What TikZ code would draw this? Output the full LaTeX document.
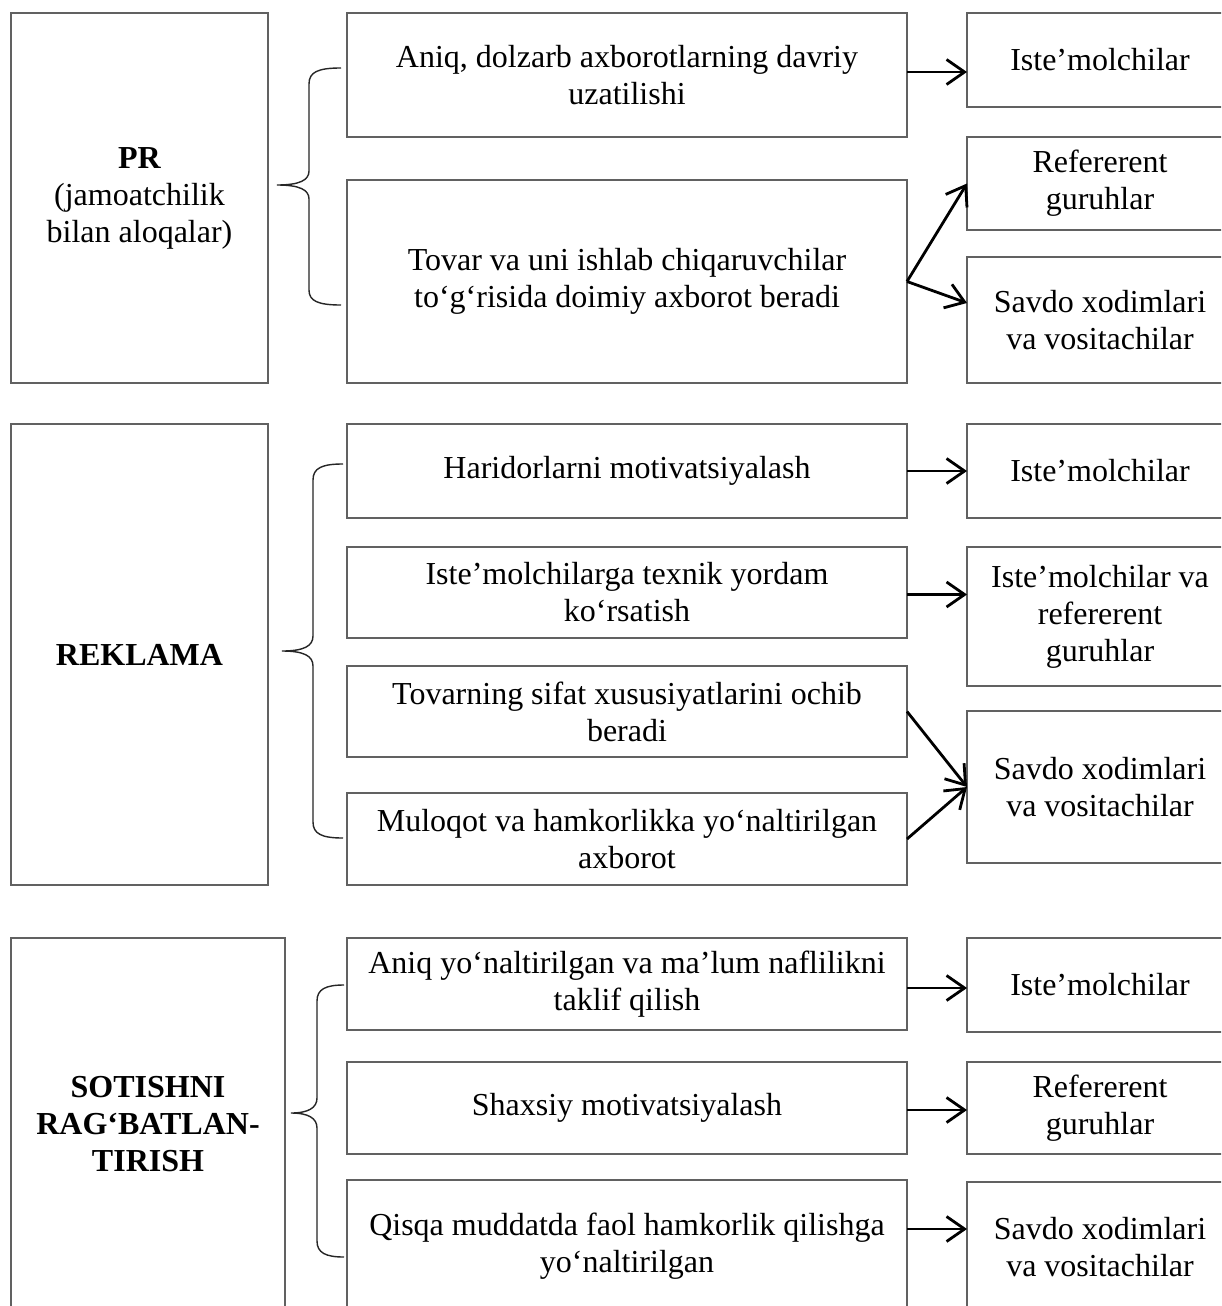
\documentclass[tikz,border=0pt]{standalone}
\usepackage{fontspec}
\setmainfont{Liberation Serif}
\usetikzlibrary{arrows.meta}

\tikzset{
  box/.style={draw=black!62, line width=1.3pt, inner sep=0pt, outer sep=0pt,
    align=center, font=\fontsize{32}{37}\selectfont},
  arr/.style={line width=2.8pt, draw=black,
    -{Straight Barb[length=18pt,width=25pt,line width=2.8pt]}},
  bracefig/.style={draw=black!85, line width=1.4pt}
}

\begin{document}
\begin{tikzpicture}[x=1pt,y=-1pt]
\useasboundingbox (0,0) rectangle (1221,1306);
\clip (0,0) rectangle (1221,1306);
\fill[white] (0,0) rectangle (1221,1306);

% ---------- PR ----------
\node[box, minimum width=257pt, minimum height=370pt] (L1) at (139.5,198)
  {\textbf{PR}\\(jamoatchilik\\bilan aloqalar)};
\node[box, minimum width=560pt, minimum height=124pt] (A1) at (627,75)
  {Aniq, dolzarb axborotlarning davriy\\uzatilishi};
\node[box, minimum width=560pt, minimum height=203pt] (A2) at (627,281.5)
  {Tovar va uni ishlab chiqaruvchilar\\to‘g‘risida doimiy axborot beradi};
\node[box, minimum width=266pt, minimum height=94pt] (R1) at (1100,60)
  {Iste’molchilar};
\node[box, minimum width=266pt, minimum height=93pt] (R2) at (1100,183.5)
  {Refererent\\guruhlar};
\node[box, minimum width=266pt, minimum height=126pt] (R3) at (1100,320)
  {Savdo xodimlari\\va vositachilar};

% ---------- REKLAMA ----------
\node[box, minimum width=257pt, minimum height=461pt] (L2) at (139.5,654.5)
  {\textbf{REKLAMA}};
\node[box, minimum width=560pt, minimum height=94pt] (B1) at (627,471)
  {Haridorlarni motivatsiyalash};
\node[box, minimum width=560pt, minimum height=91pt] (B2) at (627,592.5)
  {Iste’molchilarga texnik yordam\\ko‘rsatish};
\node[box, minimum width=560pt, minimum height=91pt] (B3) at (627,711.5)
  {Tovarning sifat xususiyatlarini ochib\\beradi};
\node[box, minimum width=560pt, minimum height=92pt] (B4) at (627,839)
  {Muloqot va hamkorlikka yo‘naltirilgan\\axborot};
\node[box, minimum width=266pt, minimum height=94pt] (R4) at (1100,471)
  {Iste’molchilar};
\node[box, minimum width=266pt, minimum height=139pt] (R5) at (1100,616.5)
  {Iste’molchilar va\\refererent\\guruhlar};
\node[box, minimum width=266pt, minimum height=152pt] (R6) at (1100,787)
  {Savdo xodimlari\\va vositachilar};

% ---------- SOTISHNI RAG'BATLANTIRISH ----------
\node[box, minimum width=274pt, minimum height=372pt] (L3) at (148,1124)
  {\textbf{SOTISHNI}\\\textbf{RAG‘BATLAN-}\\\textbf{TIRISH}};
\node[box, minimum width=560pt, minimum height=92pt] (C1) at (627,984)
  {Aniq yo‘naltirilgan va ma’lum naflilikni\\taklif qilish};
\node[box, minimum width=560pt, minimum height=92pt] (C2) at (627,1108)
  {Shaxsiy motivatsiyalash};
\node[box, minimum width=560pt, minimum height=132pt] (C3) at (627,1246)
  {Qisqa muddatda faol hamkorlik qilishga\\yo‘naltirilgan};
\node[box, minimum width=266pt, minimum height=94pt] (R7) at (1100,985)
  {Iste’molchilar};
\node[box, minimum width=266pt, minimum height=92pt] (R8) at (1100,1108)
  {Refererent\\guruhlar};
\node[box, minimum width=266pt, minimum height=130pt] (R9) at (1100,1247)
  {Savdo xodimlari\\va vositachilar};

% ---------- braces ----------
\draw[bracefig] (341,68) .. controls (318,68) and (309,72) .. (309,84)
  -- (309,171) .. controls (309,180) and (300,185) .. (277,185)
  .. controls (300,185) and (309,190) .. (309,199)
  -- (309,290) .. controls (309,301) and (318,305) .. (341,305);
\draw[bracefig] (343,464) .. controls (322,464) and (313,468) .. (313,480)
  -- (313,636) .. controls (313,646) and (304,651) .. (282,651)
  .. controls (304,651) and (313,656) .. (313,666)
  -- (313,822) .. controls (313,834) and (322,838) .. (343,838);
\draw[bracefig] (344,985) .. controls (326,985) and (317,989) .. (317,1001)
  -- (317,1098) .. controls (317,1108) and (308,1113) .. (291,1113)
  .. controls (308,1113) and (317,1118) .. (317,1128)
  -- (317,1241) .. controls (317,1253) and (326,1257) .. (344,1257);

% ---------- arrows ----------
\draw[arr] ([yshift=3pt]A1.east) -- ([yshift=3pt]A1.east -| R1.west);
\draw[arr] (A2.east) -- (R2.west);
\draw[arr] (A2.east) -- ([yshift=17pt]R3.west);
\draw[arr] (B1.east) -- (B1.east -| R4.west);
\draw[arr] ([yshift=-2pt]B2.east) -- ([yshift=-2pt]B2.east -| R5.west);
\draw[arr] (B3.east) -- (R6.west);
\draw[arr] (B4.east) -- (R6.west);
\draw[arr] ([yshift=-4pt]C1.east) -- ([yshift=-4pt]C1.east -| R7.west);
\draw[arr] ([yshift=-2pt]C2.east) -- ([yshift=-2pt]C2.east -| R8.west);
\draw[arr] ([yshift=17pt]C3.east) -- ([yshift=17pt]C3.east -| R9.west);
\end{tikzpicture}
\end{document}
